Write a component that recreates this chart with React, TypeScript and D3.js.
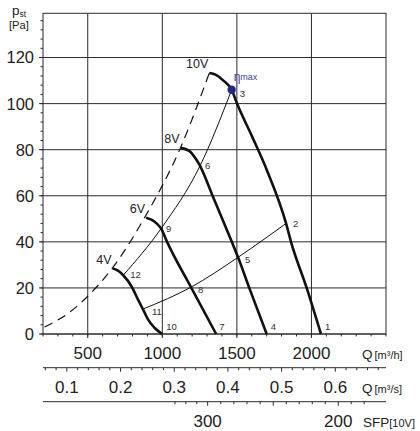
import React from 'react';
import * as d3 from 'd3';

// fan curves: Q in m3/h, p in Pa
const curveNames = ['10V', '8V', '6V', '4V'];
const curve10Q = [1315, 1360, 1410, 1465, 1501, 1600, 1702, 1830, 1863, 1968, 2064];
const curve10P = [113.3, 112.5, 110, 106, 100, 86, 71, 48, 40, 20, 0];
const curve8Q = [1123, 1180, 1230, 1253, 1337, 1466, 1508, 1583, 1700];
const curve8P = [80.8, 79.5, 75.5, 73, 60, 40, 33.3, 20, 0];
const curve6Q = [891, 930, 965, 992, 1032, 1192, 1361];
const curve6P = [50.5, 49.5, 47.8, 45.8, 40, 20.3, 0];
const curve4Q = [667, 700, 738, 795, 839, 873, 906, 951, 1000];
const curve4P = [28.4, 27.6, 25.5, 20.5, 14.7, 10.4, 6.1, 2.5, 0];

// system lines
const sysAQ = [738, 992, 1253, 1465];
const sysAP = [25.5, 45.8, 73, 106];
const sysBQ = [877, 1192, 1508, 1830];
const sysBP = [11, 20.3, 33.3, 48];

// dashed limit line
const limitQ = [210, 380, 500, 665, 890, 1123, 1315];
const limitP = [3, 9.5, 16.4, 28.6, 51.5, 81, 113.3];

// numbered operating points
const pointNames = ['1', '2', '3', '4', '5', '6', '7', '8', '9', '10', '11', '12'];
const pointQ = [2064, 1830, 1465, 1700, 1508, 1253, 1361, 1192, 992, 1000, 877, 738];
const pointP = [0, 48, 106, 0, 33.3, 73, 0, 20.3, 45.8, 0, 11, 25.5];

const etaMaxQ = 1465;
const etaMaxP = 106;

// axes
const pTicks = [0, 20, 40, 60, 80, 100, 120];
const qhTicks = [500, 1000, 1500, 2000];
const qsTicks = [0.1, 0.2, 0.3, 0.4, 0.5, 0.6];
const sfpTicks = [330, 320, 310, 300, 290, 280, 270, 260, 250, 240, 230, 220, 210, 200, 190, 180];
const sfpLabels = [300, 200];
const sfpAnchorValues = [330, 300, 250, 200, 170];
const sfpAnchorQ = [1085, 1304, 1744, 2180, 2440];

const font = '"Liberation Sans", Arial, Helvetica, sans-serif';

const zip = (a: number[], b: number[]) => a.map((v, i) => [v, b[i]] as [number, number]);

export default function App() {
  const left = 43, right = 386, top = 13.3, bottom = 334;
  const x = d3.scaleLinear().domain([200, 2500]).range([left, right]);
  const y = d3.scaleLinear().domain([0, 139.2]).range([bottom, top]);
  const sfpToQ = d3.scaleLinear().domain(sfpAnchorValues).range(sfpAnchorQ);

  const line = d3
    .line<[number, number]>()
    .x(d => x(d[0]))
    .y(d => y(d[1]))
    .curve(d3.curveMonotoneX);

  const curves = [
    zip(curve10Q, curve10P),
    zip(curve8Q, curve8P),
    zip(curve6Q, curve6P),
    zip(curve4Q, curve4P)
  ];

  const minorP = d3.range(0, 139, 4);
  const minorQh = d3.range(200, 2501, 100);
  const minorQs = d3.range(0.06, 0.69, 0.02);

  const qsAxisY = 367.7;
  const sfpAxisY = 401.7;

  // offsets of the point numbers from their points
  const pointOffsets: [number, number][] = [
    [4, -4], [7, 4], [8, 7], [4, -4], [7, 6], [5, 3],
    [3, -4], [7, 6], [5, 4], [4, -4], [8, 6], [7, 3]
  ];

  return (
    <svg
      width={420}
      height={431}
      style={{ position: 'absolute', left: 0, top: 0, background: '#fff' }}
      fontFamily={font}
    >
      {/* grid */}
      <g stroke="#2a2a2a" strokeWidth={1}>
        {pTicks.filter(t => t > 0).map(t => (
          <line key={'gp' + t} x1={left - 4} x2={right} y1={y(t)} y2={y(t)} />
        ))}
        {qhTicks.map(t => (
          <line key={'gq' + t} x1={x(t)} x2={x(t)} y1={top} y2={bottom + 4} />
        ))}
        <rect x={left} y={top} width={right - left} height={bottom - top} fill="none" />
        <line x1={left - 4} x2={right} y1={bottom} y2={bottom} />
      </g>

      {/* minor ticks */}
      <g stroke="#2a2a2a" strokeWidth={1}>
        {minorP.map(t => (
          <line key={'mp' + t} x1={left - 2.5} x2={left} y1={y(t)} y2={y(t)} />
        ))}
        {minorQh.map(t => (
          <line key={'mq' + t} x1={x(t)} x2={x(t)} y1={bottom} y2={bottom + 2.5} />
        ))}
      </g>

      {/* y labels */}
      <g fontSize={16.5} fill="#222" textAnchor="end">
        {pTicks.map(t => (
          <text key={'tp' + t} x={34} y={y(t)} dy="0.36em">
            {t}
          </text>
        ))}
      </g>
      <text x={12} y={15} fontSize={13.5} fill="#222">
        p<tspan fontSize={8.5} dy={1.5}>st</tspan>
      </text>
      <text x={9} y={29} fontSize={11.2} fill="#222">
        [Pa]
      </text>

      {/* Q m3/h labels */}
      <g fontSize={17} fill="#222" textAnchor="middle">
        {qhTicks.map(t => (
          <text key={'tq' + t} x={x(t)} y={358.5}>
            {t}
          </text>
        ))}
      </g>
      <text x={362} y={359} fill="#222" fontSize={13.5}>
        Q<tspan fontSize={11} dx={2}>[m³/h]</tspan>
      </text>

      {/* Q m3/s axis */}
      <g stroke="#2a2a2a" strokeWidth={1}>
        <line x1={left} x2={right} y1={qsAxisY} y2={qsAxisY} />
        {minorQs.map(t => {
          const major = Math.abs(t * 10 - Math.round(t * 10)) < 1e-6;
          return (
            <line
              key={'ms' + t.toFixed(2)}
              x1={x(t * 3600)}
              x2={x(t * 3600)}
              y1={qsAxisY}
              y2={qsAxisY + (major ? 4 : 2.5)}
            />
          );
        })}
      </g>
      <g fontSize={17} fill="#222" textAnchor="middle">
        {qsTicks.map(t => (
          <text key={'ts' + t} x={x(t * 3600)} y={393}>
            {t}
          </text>
        ))}
      </g>
      <text x={362} y={393} fill="#222" fontSize={13.5}>
        Q<tspan fontSize={11} dx={2}>[m³/s]</tspan>
      </text>

      {/* SFP axis */}
      <g stroke="#2a2a2a" strokeWidth={1}>
        <line x1={left} x2={right} y1={sfpAxisY} y2={sfpAxisY} />
        {sfpTicks.map(t => {
          const major = t % 50 === 0;
          return (
            <line
              key={'sf' + t}
              x1={x(sfpToQ(t))}
              x2={x(sfpToQ(t))}
              y1={sfpAxisY}
              y2={sfpAxisY + (major ? 4 : 2.5)}
            />
          );
        })}
      </g>
      <g fontSize={17} fill="#222" textAnchor="middle">
        {sfpLabels.map(t => (
          <text key={'sl' + t} x={x(sfpToQ(t))} y={427}>
            {t}
          </text>
        ))}
      </g>
      <text x={363} y={427} fill="#222" fontSize={13.5}>
        SFP<tspan fontSize={11}>[10V]</tspan>
      </text>

      {/* dashed limit */}
      <path
        d={line(zip(limitQ, limitP)) || ''}
        fill="none"
        stroke="#111"
        strokeWidth={1.2}
        strokeDasharray="9,6"
      />

      {/* system lines */}
      <path d={line(zip(sysAQ, sysAP)) || ''} fill="none" stroke="#111" strokeWidth={1} />
      <path d={line(zip(sysBQ, sysBP)) || ''} fill="none" stroke="#111" strokeWidth={1} />

      {/* fan curves */}
      {curves.map((c, i) => (
        <g key={curveNames[i]}>
          <path d={line(c) || ''} fill="none" stroke="#111" strokeWidth={2.6} />
          <text
            x={x(c[0][0]) - 1}
            y={y(c[0][1]) - 4.5}
            fontSize={12.5}
            fill="#222"
            textAnchor="end"
          >
            {curveNames[i]}
          </text>
        </g>
      ))}

      {/* eta max */}
      <circle cx={x(etaMaxQ)} cy={y(etaMaxP)} r={4.2} fill="#22288a" />
      <text x={x(etaMaxQ) + 2} y={y(etaMaxP) - 9} fill="#3c40a8" fontSize={12}>
        η<tspan fontSize={9} dy={-1}>max</tspan>
      </text>

      {/* point numbers */}
      <g fontSize={9.5} fill="#333">
        {pointNames.map((n, i) => (
          <text
            key={'pt' + n}
            x={x(pointQ[i]) + pointOffsets[i][0]}
            y={y(pointP[i]) + pointOffsets[i][1]}
          >
            {n}
          </text>
        ))}
      </g>
    </svg>
  );
}
